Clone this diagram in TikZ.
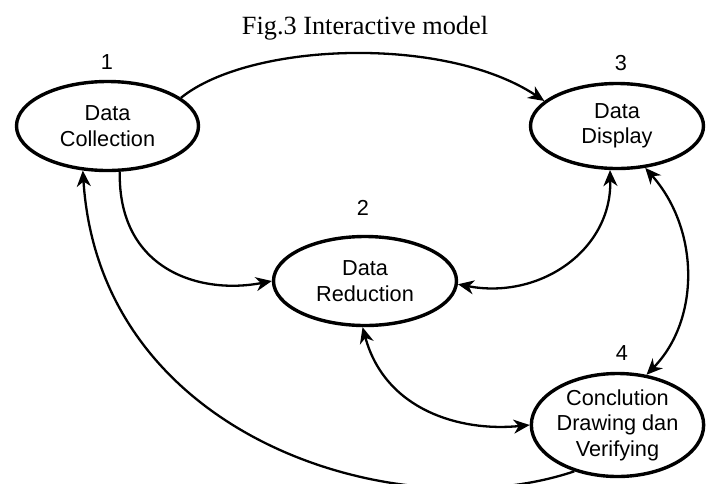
\documentclass[tikz,border=0pt]{standalone}
\usepackage{fontspec}
\setmainfont{Liberation Serif}
\newfontfamily\arialfont{Liberation Sans}
\usetikzlibrary{shapes.geometric,arrows.meta}

\tikzset{
  stage/.style={ellipse, draw, line width=3.4pt, inner sep=0pt, align=center,
    font=\arialfont\fontsize{21.7}{25.5}\selectfont},
  stagenum/.style={inner sep=0pt, font=\arialfont\fontsize{21.7}{25.5}\selectfont},
  tipshape/.tip={Stealth[length=16pt,width=14pt,inset=5pt]},
  flow/.style={line width=2.3pt, -tipshape},
  twoway/.style={line width=2.3pt, tipshape-tipshape}
}

\begin{document}
\begin{tikzpicture}[x=1pt,y=-1pt]
  \useasboundingbox (0,0) rectangle (707,483);
  \clip (0,0) rectangle (707,483);

  % title
  \node[font=\fontsize{26.3}{30}\selectfont, anchor=base] (title) at (365,34) {Fig.3 Interactive model};

  % the four stages
  \node[stage, minimum width=182pt, minimum height=89pt] (dc) at (107.5,126) {Data\\Collection};
  \node[stage, minimum width=183pt, minimum height=89pt] (dr) at (365,281) {Data\\Reduction};
  \node[stage, minimum width=173pt, minimum height=85pt] (dd) at (617,126) {Data\\Display};
  \node[stage, minimum width=172pt, minimum height=103pt] (cd) at (617.5,425) {Conclution\\Drawing dan\\Verifying};

  % stage numbers
  \node[stagenum] (n1) at (107,62) {1};
  \node[stagenum] (n2) at (363,208) {2};
  \node[stagenum] (n3) at (621,63) {3};
  \node[stagenum] (n4) at (622,353) {4};

  % connectors
  \draw[flow] (dc.21) .. controls (250,42) and (445,35) .. (dd.161);
  \draw[flow] (dc.285) .. controls (118,270) and (200,295) .. (dr.west);
  \draw[twoway] (dr.358) .. controls (540,300) and (612,250) .. (dd.261.5);
  \draw[twoway] (dd.304) .. controls (700,230) and (700,320) .. (cd.60);
  \draw[twoway] (dr.267) .. controls (385,410) and (460,432) .. (cd.west);
  \draw[flow] (cd.227) .. controls (400,530) and (100,440) .. (dc.241);
\end{tikzpicture}
\end{document}
